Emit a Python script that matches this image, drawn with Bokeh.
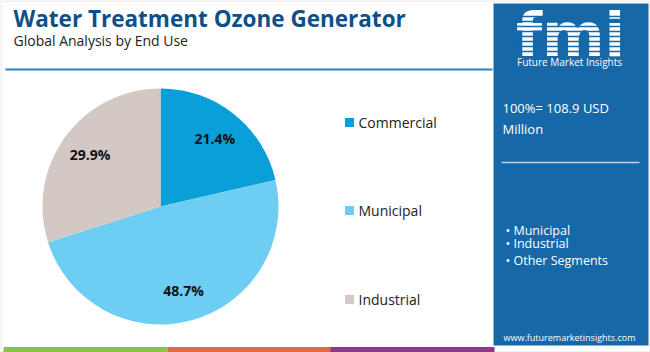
import math
from bokeh.plotting import figure
from bokeh.models import Range1d, ColumnDataSource
from bokeh.core.properties import value
from bokeh.embed import file_html
from bokeh.resources import INLINE

title = "Water Treatment Ozone Generator"
subtitle = "Global Analysis by End Use"
categories = ["Commercial", "Municipal", "Industrial"]
shares = [21.4, 48.7, 29.9]
colors = ["#0a9fd8", "#6dcdf2", "#d3c8c4"]
total_text = ["100%= 108.9 USD", "Million"]
bullets = ["Municipal", "Industrial", "Other Segments"]
url = "www.futuremarketinsights.com"

W, H = 650, 352
p = figure(width=W, height=H, output_backend="svg", toolbar_location=None,
           x_range=Range1d(0, W), y_range=Range1d(0, H), min_border=0)
p.axis.visible = False
p.grid.visible = False
p.outline_line_color = None
p.background_fill_color = "white"
p.border_fill_color = "white"

def Y(y):
    return H - y

# outer border
p.rect(x=W / 2, y=H / 2, width=W - 1, height=H - 1, fill_color=None, line_color="#e2e2e2", line_width=1)

# title area
p.text(x=[13], y=[Y(18)], text=[title], text_font=value("Open Sans"), text_font_style="bold",
       text_font_size="22.5px", text_color="#0d5088", text_baseline="middle")
p.text(x=[13], y=[Y(40)], text=[subtitle], text_font=value("Open Sans"),
       text_font_size="14px", text_color="#222222", text_baseline="middle")
p.line(x=[5, 492], y=[Y(69), Y(69)], line_color="#2f7fbf", line_width=2)

# pie
cx, cy, R = 160, Y(206), 118
fr = [s / sum(shares) for s in shares]
starts, ends, lx, ly, labels = [], [], [], [], []
cum = 0.0
for f, s in zip(fr, shares):
    a0 = math.pi / 2 - cum * 2 * math.pi
    a1 = math.pi / 2 - (cum + f) * 2 * math.pi
    starts.append(a0)
    ends.append(a1)
    mid = (a0 + a1) / 2
    lx.append(cx + 0.74 * R * math.cos(mid))
    ly.append(cy + 0.74 * R * math.sin(mid))
    labels.append(f"{s}%")
    cum += f
src = ColumnDataSource(dict(start=starts, end=ends, color=colors, cat=categories))
p.wedge(x=cx, y=cy, radius=R, start_angle="start", end_angle="end", direction="clock",
        fill_color="color", line_color="white", line_width=0, source=src)
p.text(x=lx, y=ly, text=labels, text_font=value("Open Sans"), text_font_style="bold",
       text_font_size="14px", text_color="#111111", text_align="center", text_baseline="middle")

# legend
leg_y = [Y(122), Y(210), Y(299)]
p.rect(x=[349] * 3, y=leg_y, width=9, height=9, fill_color=colors, line_color=None)
p.text(x=[358] * 3, y=leg_y, text=categories, text_font=value("Open Sans"),
       text_font_size="14px", text_color="#222222", text_baseline="middle")

# right panel
p.rect(x=(493 + 648) / 2, y=Y((3 + 345) / 2), width=648 - 493, height=342,
       fill_color="#1668a9", line_color=None)
p.text(x=[570], y=[Y(34)], text=["fmi"], text_font=value("DejaVu Sans"), text_font_style="bold",
       text_font_size="60px", text_color="white", text_align="center", text_baseline="middle")
for yy in range(16, 56, 5):
    p.line(x=[512, 628], y=[Y(yy), Y(yy)], line_color="#1668a9", line_width=1.5)
p.text(x=[569], y=[Y(61)], text=["Future Market Insights"], text_font=value("Open Sans"),
       text_font_size="10px", text_color="white", text_align="center", text_baseline="middle")
p.text(x=[502, 502], y=[Y(107), Y(128)], text=total_text, text_font=value("Open Sans"),
       text_font_size="13px", text_color="white", text_baseline="middle")
p.line(x=[501, 639], y=[Y(162), Y(162)], line_color="#b9d3ea", line_width=1.5)
by = [Y(230), Y(243), Y(260)]
p.text(x=[505] * 3, y=by, text=["\u2022 " + b for b in bullets], text_font=value("Open Sans"),
       text_font_size="12.5px", text_color="white", text_baseline="middle")
p.text(x=[569], y=[Y(337)], text=[url], text_font=value("Open Sans"),
       text_font_size="9px", text_color="white", text_align="center", text_baseline="middle")

# bottom stripe
stripe_cols = ["#8bc34a", "#e06a3a", "#8e3a8a"]
p.rect(x=[85, 249, 412], y=[Y(349)] * 3, width=[164, 164, 164], height=5,
       fill_color=stripe_cols, line_color=None)

open("out.html", "w").write(file_html(p, INLINE))
